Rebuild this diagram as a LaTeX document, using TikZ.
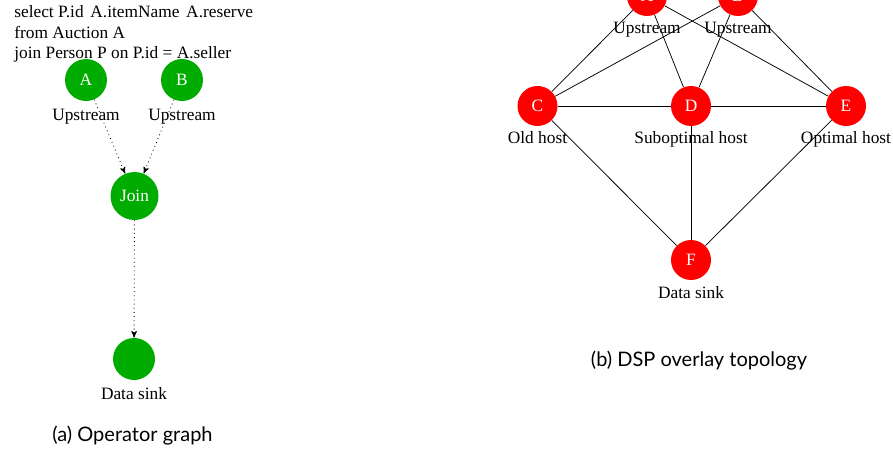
\documentclass[tikz,border=0pt]{standalone}
\usepackage{fontspec}
\setmainfont{Liberation Serif}
\newfontfamily\capfont{Lato}
\usetikzlibrary{shapes,arrows,positioning}
\definecolor{opgreen}{RGB}{0,172,0}
\definecolor{hostred}{RGB}{255,0,0}
\tikzset{%
	operator/.style 	= {circle, fill = opgreen, text = white, minimum size = 25.2pt, inner sep = 0pt}, % Operator
	bigop/.style    	= {operator, minimum size = 28.8pt}, % Join operator
	host/.style     	= {circle, fill = hostred, text = white, minimum size = 24pt, inner sep = 0pt}, % Host
	lbl/.style      	= {anchor = base, inner sep = 0pt}, % Label under a node
	query/.style    	= {anchor = base west, inner sep = 0pt}, % Query line
	capt/.style     	= {anchor = base, inner sep = 0pt, font = \capfont\fontsize{12}{14.4}\selectfont}, % Caption
	flow/.style     	= {->, dotted, line width = 0.5pt}, % Data flow
	link/.style     	= {line width = 0.45pt} % Network link
}

\begin{document}
\begin{tikzpicture}[auto, x = 0.6pt, y = -0.6pt, >=stealth', font = \fontsize{10.4}{12.5}\selectfont]
	\useasboundingbox (0, 0) rectangle (893, 451);
	\draw % Drawing the query and the operator graph
	node at (14, 18) [query] (q1) {select P.id\hspace{0.39em}A.itemName\hspace{0.39em}A.reserve}
	node at (14, 38.5) [query] (q2) {from Auction A}
	node at (14, 59) [query] (q3) {join Person P on P.id = A.seller}
	node at (86, 80) [operator] (opA) {A}
	node at (182, 80) [operator] (opB) {B}
	node at (134.5, 196) [bigop] (join) {Join}
	node at (134, 359) [operator] (sink) {}
	node at (86, 121) [lbl] (lopA) {Upstream}
	node at (182, 121) [lbl] (lopB) {Upstream}
	node at (134, 399) [lbl] (lsink) {Data sink}
	node at (132.5, 441) [capt] (capa) {(a) Operator graph}
	;
	
	\draw % Drawing the overlay topology
	node at (647, -4) [host] (hA) {A}
	node at (738, -4) [host] (hB) {B}
	node at (537.5, 106) [host] (hC) {C}
	node at (691, 106) [host] (hD) {D}
	node at (846, 106) [host] (hE) {E}
	node at (691, 260) [host] (hF) {F}
	node at (647, 34) [lbl] (lhA) {Upstream}
	node at (738, 34) [lbl] (lhB) {Upstream}
	node at (537.5, 144) [lbl] (lhC) {Old host}
	node at (691, 144) [lbl] (lhD) {Suboptimal host}
	node at (846, 144) [lbl] (lhE) {Optimal host}
	node at (691, 298) [lbl] (lhF) {Data sink}
	node at (699, 366) [capt] (capb) {(b) DSP overlay topology}
	;
	
	% Drawing the arrows
	\draw[flow] (opA) -- (join);
	\draw[flow] (opB) -- (join);
	\draw[flow] (join) -- (sink);
	
	% Drawing the links
	\draw[link] (hA) -- (hC);
	\draw[link] (hA) -- (hD);
	\draw[link] (hA) -- (hE);
	\draw[link] (hB) -- (hC);
	\draw[link] (hB) -- (hD);
	\draw[link] (hB) -- (hE);
	\draw[link] (hC) -- (hD);
	\draw[link] (hD) -- (hE);
	\draw[link] (hC) -- (hF);
	\draw[link] (hD) -- (hF);
	\draw[link] (hE) -- (hF);
\end{tikzpicture}
\end{document}
